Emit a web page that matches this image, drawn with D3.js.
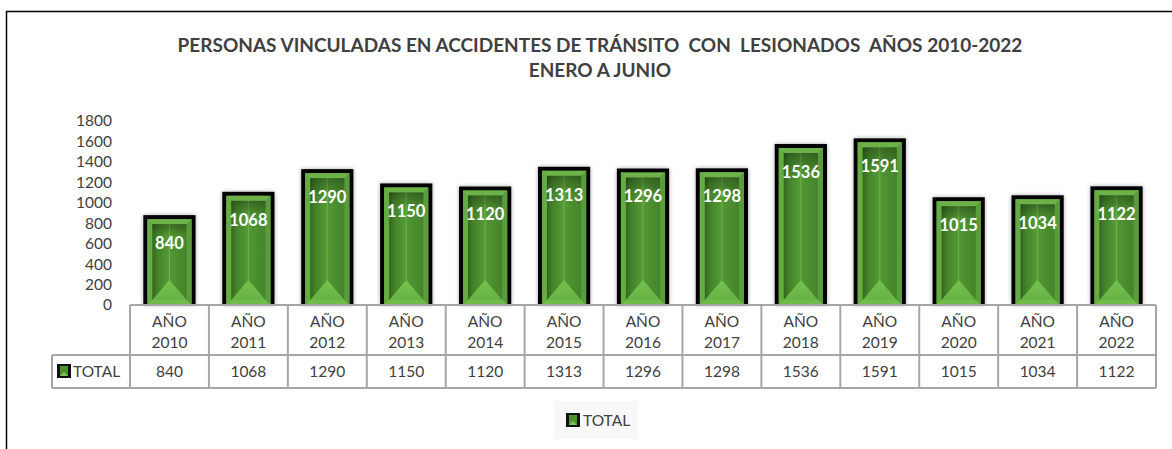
<!DOCTYPE html>
<html>
<head>
<meta charset="utf-8">
<script src="https://cdn.jsdelivr.net/npm/d3@7"></script>
<style>
body { margin: 0; background: #fff; }
svg { display: block; font-family: Lato, "Open Sans", sans-serif; }
</style>
</head>
<body>
<svg id="chart" width="1172" height="449"></svg>
<script>
// data
var years = ["2010", "2011", "2012", "2013", "2014", "2015", "2016", "2017", "2018", "2019", "2020", "2021", "2022"];
var totals = [840, 1068, 1290, 1150, 1120, 1313, 1296, 1298, 1536, 1591, 1015, 1034, 1122];
var yTicks = [0, 200, 400, 600, 800, 1000, 1200, 1400, 1600, 1800];
var seriesName = "TOTAL";
var titleLines = ["PERSONAS VINCULADAS EN ACCIDENTES DE TRÁNSITO  CON  LESIONADOS  AÑOS 2010-2022", "ENERO A JUNIO"];

var svg = d3.select("#chart");
var TEXT = "#404040", GRID = "#a6a6a6";

var X = d3.scaleBand().domain(years).range([130, 1156]).paddingInner(0.44).paddingOuter(0.22);
var Y = d3.scaleLinear().domain([0, 1800]).range([305, 121]);

// defs
var defs = svg.append("defs");
var g1 = defs.append("linearGradient").attr("id", "inner").attr("x1", 0).attr("x2", 1).attr("y1", 0).attr("y2", 0);
[[0, "#33661f"], [0.15, "#43822a"], [0.47, "#549a35"], [0.5, "#6ab24a"], [0.53, "#529632"], [1, "#45842b"]].forEach(function (s) {
    g1.append("stop").attr("offset", s[0]).attr("stop-color", s[1]);
});
var g2 = defs.append("linearGradient").attr("id", "shade").attr("x1", 0).attr("x2", 0).attr("y1", 0).attr("y2", 1);
g2.append("stop").attr("offset", 0).attr("stop-color", "#000").attr("stop-opacity", 0.3);
g2.append("stop").attr("offset", 0.15).attr("stop-color", "#000").attr("stop-opacity", 0);
var g3 = defs.append("linearGradient").attr("id", "tri").attr("x1", 0).attr("x2", 0).attr("y1", 0).attr("y2", 1);
g3.append("stop").attr("offset", 0).attr("stop-color", "#76c250");
g3.append("stop").attr("offset", 1).attr("stop-color", "#66b244");
var f = defs.append("filter").attr("id", "glow").attr("x", "-30%").attr("y", "-30%").attr("width", "160%").attr("height", "160%");
f.append("feGaussianBlur").attr("in", "SourceAlpha").attr("stdDeviation", 2).attr("result", "b");
f.append("feComponentTransfer").attr("in", "b").attr("result", "c")
    .append("feFuncA").attr("type", "linear").attr("slope", 0.35);
var m = f.append("feMerge");
m.append("feMergeNode").attr("in", "c");
m.append("feMergeNode").attr("in", "SourceGraphic");

// outer frame
svg.append("path").attr("d", "M6.5,449 V11.5 H1172").attr("fill", "none").attr("stroke", "#000").attr("stroke-width", 1.5);

// title
svg.append("g").selectAll("text").data(titleLines).join("text")
    .attr("x", 600).attr("y", function (d, i) { return 52 + i * 25; })
    .attr("text-anchor", "middle").attr("fill", TEXT)
    .style("font-weight", "bold").style("font-size", "19px").style("white-space", "pre")
    .text(function (d) { return d; });

// y axis labels
svg.append("g").selectAll("text").data(yTicks).join("text")
    .attr("x", 112).attr("y", function (d) { return Y(d); }).attr("dy", "0.35em")
    .attr("text-anchor", "end").attr("fill", TEXT).style("font-size", "15.5px")
    .text(function (d) { return d; });

// bars
function bevelBar(sel, w, h) {
    var b = 5;
    sel.append("rect").attr("x", -4).attr("y", -4).attr("width", w + 8).attr("height", h + 4).attr("fill", "#000");
    sel.append("rect").attr("width", w).attr("height", h).attr("fill", "#62a83f");
    sel.append("polygon").attr("points", [[0, 0], [w, 0], [w - b, b], [b, b]].join(" ")).attr("fill", "#6cb249");
    sel.append("polygon").attr("points", [[0, 0], [b, b], [b, h - b], [0, h]].join(" ")).attr("fill", "#66ac43");
    sel.append("polygon").attr("points", [[w, 0], [w, h], [w - b, h - b], [w - b, b]].join(" ")).attr("fill", "#5a9c3c");
    sel.append("polygon").attr("points", [[0, h], [w, h], [w - b, h - b], [b, h - b]].join(" ")).attr("fill", "#70bc4c");
    sel.append("rect").attr("x", b).attr("y", b).attr("width", w - 2 * b).attr("height", h - 2 * b).attr("fill", "url(#inner)");
    sel.append("rect").attr("x", b).attr("y", b).attr("width", w - 2 * b).attr("height", h - 2 * b).attr("fill", "url(#shade)");
    sel.append("polygon").attr("points", [[b, h - b], [w - b, h - b], [w / 2, h - b - 20]].join(" ")).attr("fill", "url(#tri)");
}

var bars = svg.append("g").selectAll("g").data(years).join("g")
    .attr("transform", function (d) { return "translate(" + X(d) + "," + Y(totals[years.indexOf(d)]) + ")"; })
    .attr("filter", "url(#glow)");
bars.each(function (d, i) {
    bevelBar(d3.select(this), X.bandwidth(), Y(0) - Y(totals[i]));
});

// value labels
svg.append("g").selectAll("text").data(years).join("text")
    .attr("x", function (d) { return X(d) + X.bandwidth() / 2; })
    .attr("y", function (d, i) { return Y(totals[i]) + 24; }).attr("dy", "0.35em")
    .attr("text-anchor", "middle").attr("fill", "#fff")
    .style("font-weight", "bold").style("font-size", "16.5px")
    .text(function (d, i) { return totals[i]; });

// data table
var step = X.step(), left = X.range()[0], right = X.range()[1];
var rowTop = 305, rowMid = 355, rowBot = 388, legLeft = 52;
var tbl = svg.append("g").attr("stroke", GRID).attr("stroke-width", 2).attr("fill", "none");
tbl.append("line").attr("x1", left).attr("x2", right).attr("y1", rowTop).attr("y2", rowTop);
tbl.append("line").attr("x1", legLeft).attr("x2", right).attr("y1", rowMid).attr("y2", rowMid);
tbl.append("line").attr("x1", legLeft).attr("x2", right).attr("y1", rowBot).attr("y2", rowBot);
tbl.append("line").attr("x1", legLeft).attr("x2", legLeft).attr("y1", rowMid).attr("y2", rowBot);
tbl.selectAll("line.v").data(d3.range(years.length + 1)).join("line").attr("class", "v")
    .attr("x1", function (i) { return left + i * step; }).attr("x2", function (i) { return left + i * step; })
    .attr("y1", rowTop).attr("y2", rowBot);

var head = svg.append("g").selectAll("text").data(years).join("text")
    .attr("text-anchor", "middle").attr("fill", TEXT).style("font-size", "15.5px");
head.append("tspan").attr("x", function (d) { return X(d) + X.bandwidth() / 2; }).attr("y", 327).text("AÑO");
head.append("tspan").attr("x", function (d) { return X(d) + X.bandwidth() / 2; }).attr("y", 348).text(function (d) { return d; });

svg.append("g").selectAll("text").data(totals).join("text")
    .attr("x", function (d, i) { return X(years[i]) + X.bandwidth() / 2; }).attr("y", 377)
    .attr("text-anchor", "middle").attr("fill", TEXT).style("font-size", "15.5px")
    .text(function (d) { return d; });

function legendKey(sel, x, y) {
    sel.append("rect").attr("x", x).attr("y", y).attr("width", 14).attr("height", 14).attr("fill", "#111");
    sel.append("rect").attr("x", x + 3).attr("y", y + 2).attr("width", 8).attr("height", 10).attr("fill", "#4e922f");
    sel.append("polygon").attr("points", [[x + 3, y + 12], [x + 11, y + 12], [x + 7, y + 8]].join(" ")).attr("fill", "#7cc455");
}
var leg1 = svg.append("g");
legendKey(leg1, 57, 364);
leg1.append("text").attr("x", 73).attr("y", 377).attr("fill", TEXT).style("font-size", "15.5px").text(seriesName);

// bottom legend
var leg2 = svg.append("g");
leg2.append("rect").attr("x", 554).attr("y", 401).attr("width", 84).attr("height", 38).attr("fill", "#f8f8f8");
legendKey(leg2, 566, 413);
leg2.append("text").attr("x", 583).attr("y", 426).attr("fill", TEXT).style("font-size", "15.5px").text(seriesName);
</script>
</body>
</html>
